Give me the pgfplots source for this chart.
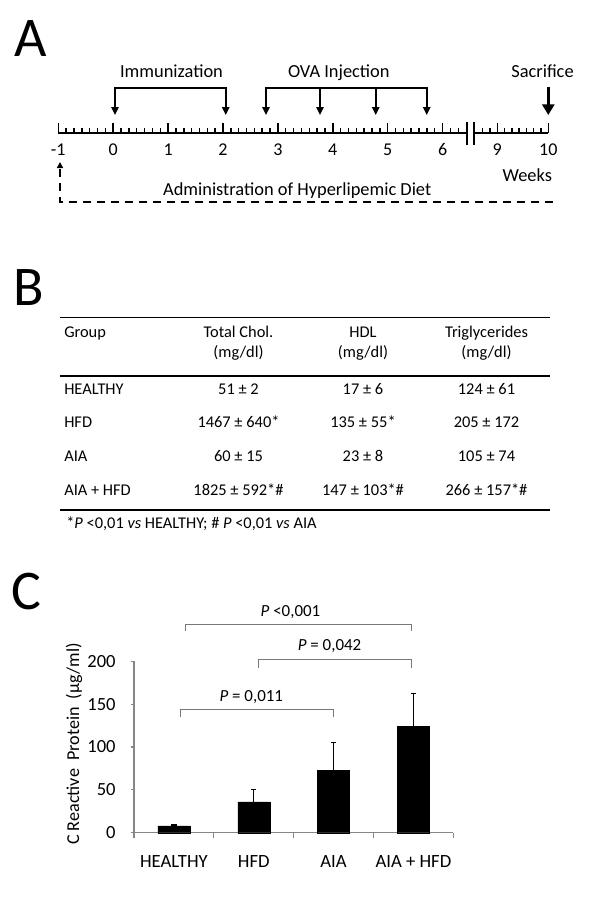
\documentclass[border=0pt]{standalone}
\usepackage{pgfplots}
\pgfplotsset{compat=1.18}
\usepackage{fontspec}
\setmainfont{Carlito}
\usetikzlibrary{arrows.meta}
\definecolor{axisGray}{HTML}{868686}
\definecolor{brkGray}{HTML}{787878}
\newcommand{\fs}[1]{\fontsize{#1}{#1}\selectfont}

\begin{document}
\begin{tikzpicture}[x=0.75pt,y=-0.75pt]
  \path[use as bounding box] (0,0) rectangle (600,900);

  % panel letters
  \node[anchor=base west, inner sep=0pt, font=\fs{42pt}] at (14,56.7) {A};
  \node[anchor=base west, inner sep=0pt, font=\fs{42pt}] at (13,305) {B};
  \node[anchor=base west, inner sep=0pt, font=\fs{42pt}] at (11,609) {C};

  % ---------- A: timeline ----------
  \draw[line width=1.5pt] (58.3,133) -- (467.3,133);
  \draw[line width=1.5pt] (474,133) -- (548.3,133);
  \foreach \k in {0,...,51}{
    \pgfmathsetmacro\xx{58.3+\k*54.9/7}
    \pgfmathsetmacro\tl{ifthenelse(mod(\k,7)==0,10,5)}
    \draw[line width=1.1pt] (\xx,133) -- (\xx,133-\tl);
  }
  \foreach \xx/\tl in {482.7/5,490/5,497.3/10,504.6/5,511.9/5,519.1/5,526.4/5,533.7/5,541/5,548.3/10}
    \draw[line width=1.1pt] (\xx,133) -- (\xx,133-\tl);
  \draw[line width=1.5pt] (467.3,122) -- (467.3,145);
  \draw[line width=1.5pt] (474,122) -- (474,145);
  \foreach \w in {-1,0,...,6}
    \node[anchor=base, inner sep=0pt, font=\fs{13.5pt}] at (113.2+54.9*\w,155) {\w};
  \node[anchor=base, inner sep=0pt, font=\fs{13.5pt}] at (497.3,155) {9};
  \node[anchor=base, inner sep=0pt, font=\fs{13.5pt}] at (548.3,155) {10};

  \node[anchor=base, inner sep=0pt, font=\fs{13.8pt}] at (171.5,77.3) {Immunization};
  \node[anchor=base, inner sep=0pt, font=\fs{13.8pt}] at (338.8,77.3) {OVA Injection};
  \node[anchor=base, inner sep=0pt, font=\fs{13.8pt}] at (542.5,77.3) {Sacrifice};
  \node[anchor=base, inner sep=0pt, font=\fs{13.8pt}] at (527.3,181.7) {Weeks};
  \node[anchor=base, inner sep=0pt, font=\fs{13.8pt}] at (297.2,195) {Administration of Hyperlipemic Diet};

  \tikzset{tri/.style={-{Triangle[width=5.5pt,length=6pt]}, line width=1.3pt}}
  \draw[line width=1.3pt, {Triangle[width=5.5pt,length=6pt]}-{Triangle[width=5.5pt,length=6pt]}]
    (115,115) -- (115,87.7) -- (225.7,87.7) -- (225.7,115);
  \draw[line width=1.3pt, {Triangle[width=5.5pt,length=6pt]}-{Triangle[width=5.5pt,length=6pt]}]
    (266,115) -- (266,87.7) -- (426.7,87.7) -- (426.7,115);
  \draw[tri] (320,87.7) -- (320,115);
  \draw[tri] (375.7,87.7) -- (375.7,115);
  \draw[line width=2.4pt, -{Triangle[width=9pt,length=8pt]}] (548.3,86.5) -- (548.3,115);
  \draw[line width=1.5pt, dash pattern=on 6pt off 4.5pt, -{Triangle[width=4.5pt,length=4.5pt]}]
    (553,201.7) -- (60,201.7) -- (60,162);

  % ---------- B: table ----------
  \draw[line width=1.2pt] (60,317.3) -- (550,317.3);
  \draw[line width=1.2pt] (60,376) -- (550,376);
  \draw[line width=1.2pt] (60,510) -- (550,510);
  \begin{scope}[every node/.style={inner sep=0pt, font=\fs{12.3pt}}]
    \node[anchor=base west] at (64,337.3) {Group};
    \node[anchor=base] at (238.5,337.3) {Total Chol.};
    \node[anchor=base] at (238.5,357.3) {(mg/dl)};
    \node[anchor=base] at (363,337.3) {HDL};
    \node[anchor=base] at (363,357.3) {(mg/dl)};
    \node[anchor=base] at (486.5,337.3) {Triglycerides};
    \node[anchor=base] at (486.5,357.3) {(mg/dl)};
    \foreach \g/\tc/\hd/\tg [count=\i from 0] in
      {HEALTHY/51 ± 2/17 ± 6/124 ± 61,
       HFD/1467 ± 640*/135 ± 55*/205 ± 172,
       AIA/60 ± 15/23 ± 8/105 ± 74,
       AIA + HFD/1825 ± 592*\#/147 ± 103*\#/266 ± 157*\#}{
      \node[anchor=base west] at (64,394+33.7*\i) {\g};
      \node[anchor=base] at (238.5,394+33.7*\i) {\tc};
      \node[anchor=base] at (363,394+33.7*\i) {\hd};
      \node[anchor=base] at (486.5,394+33.7*\i) {\tg};
    }
    \node[anchor=base west] at (66,528.3) {*\textit{P} <0,01 \textit{vs} HEALTHY; \# \textit{P} <0,01 \textit{vs} AIA};
  \end{scope}

  % ---------- C: bar chart ----------
  \coordinate (corig) at (134,832.7);
  \node[rotate=90, anchor=base, inner sep=0pt, font=\fs{13.6pt}] at (79,744) {C Reactive\ \ Protein\ \ (μg/ml)};
  \begin{scope}[x=1cm,y=1cm]
  \begin{axis}[
    at={(corig)}, anchor=south west,
    scale only axis, width=239.5pt, height=128.5pt,
    xmin=0, xmax=4, ymin=0, ymax=200,
    axis x line=bottom, axis y line=left,
    axis line style={draw=axisGray, line width=0.9pt, -},
    tick style={draw=axisGray, line width=0.9pt},
    major x tick style={draw=none},
    tick align=outside,
    major tick length=2.6pt, minor tick length=4.3pt,
    ytick={0,50,...,200},
    xtick={0.5,1.5,2.5,3.5},
    xticklabels={HEALTHY,HFD,AIA,AIA + HFD},
    minor xtick={0,1,2,3,4},
    /pgf/number format/assume math mode=true,
    yticklabel style={font=\fs{13.9pt}, anchor=east, inner sep=0pt, xshift=-11pt},
    xticklabel style={font=\fs{14pt}, anchor=base, inner sep=0pt, yshift=-23.5pt},
    clip=false,
  ]
    \addplot[ybar, bar width=24pt, fill=black, draw=black, line width=0.3pt,
      error bars/.cd, y dir=plus, y explicit,
      error bar style={draw=black, line width=0.8pt},
      error mark options={rotate=90, mark size=2pt, draw=black, line width=0.8pt}]
      coordinates {(0.5,8) +- (0,1) (1.5,36) +- (0,14) (2.5,73) +- (0,32) (3.5,124) +- (0,39)};

    \draw[brkGray, line width=0.8pt] (axis cs:0.65,235.7) -- (axis cs:0.65,243.2) -- (axis cs:3.48,243.2) -- (axis cs:3.48,235.7);
    \draw[brkGray, line width=0.8pt] (axis cs:1.56,192.2) -- (axis cs:1.56,202.3) -- (axis cs:3.48,202.3) -- (axis cs:3.48,192.2);
    \draw[brkGray, line width=0.8pt] (axis cs:0.584,134.7) -- (axis cs:0.584,144) -- (axis cs:2.5,144) -- (axis cs:2.5,134.7);
    \node[anchor=base, inner sep=0pt, font=\fs{12.7pt}] at (axis cs:1.96,252.0) {\textit{P} <0,001};
    \node[anchor=base, inner sep=0pt, font=\fs{12.7pt}] at (axis cs:2.45,212.4) {\textit{P} = 0,042};
    \node[anchor=base, inner sep=0pt, font=\fs{12.7pt}] at (axis cs:1.47,152.9) {\textit{P} = 0,011};
  \end{axis}
  \end{scope}
\end{tikzpicture}
\end{document}
